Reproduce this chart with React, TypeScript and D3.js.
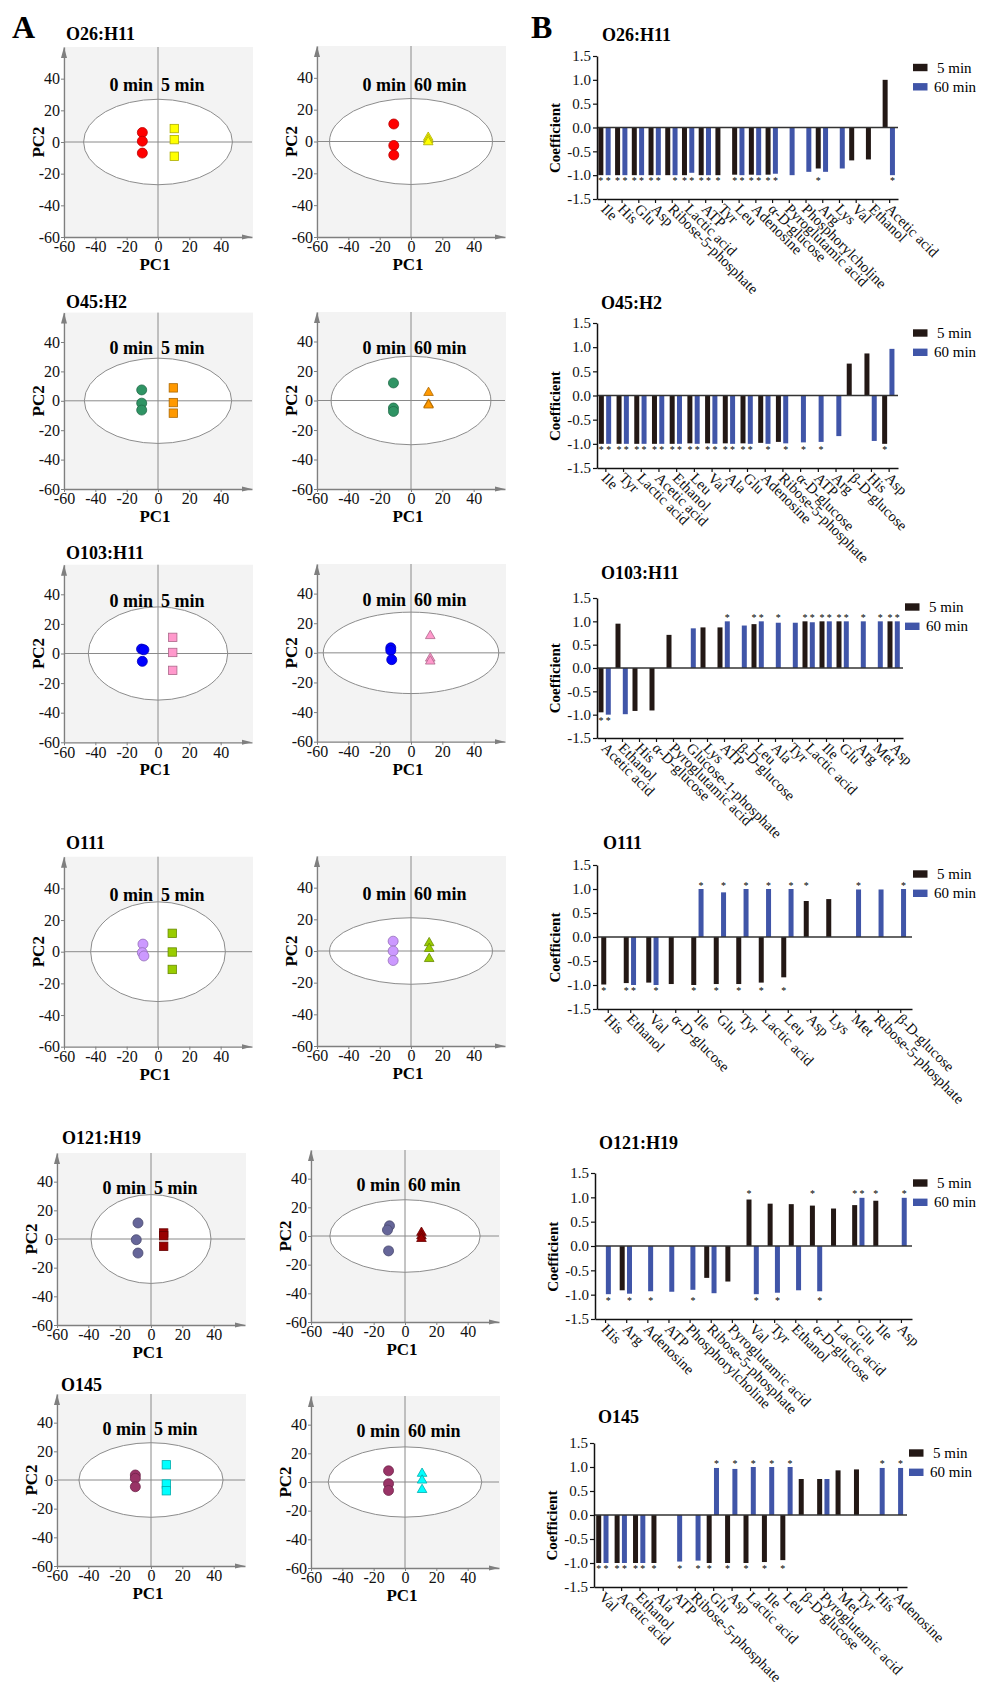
import React, { useEffect, useRef } from "react";
import * as d3 from "d3";

const FONT = "'Times New Roman', 'Liberation Serif', serif";

// ---------- panel A : PCA scores [PC1, PC2] ----------
const strains = ["O26:H11", "O45:H2", "O103:H11", "O111", "O121:H19", "O145"];
const groupLabels5 = ["0 min", "5 min"];
const groupLabels60 = ["0 min", "60 min"];
const pcTicks = [-60, -40, -20, 0, 20, 40];

const o26Ctrl5 = [[-10, 6], [-10, 0.5], [-10, -7]];
const o26Treat5 = [[10.4, 8.5], [10.4, 1.5], [10.4, -9]];
const o26Ctrl60 = [[-11, 11], [-11, -2.5], [-11, -8.5]];
const o26Treat60 = [[11, 2.5], [11, 1], [11, -0.3]];
const o26Ellipse = [[47.5, 27], [52, 27]];

const o45Ctrl5 = [[-10.4, 7.4], [-10.4, -1.6], [-10.4, -6.3]];
const o45Treat5 = [[9.8, 8.8], [9.8, -1.2], [9.8, -8.4]];
const o45Ctrl60 = [[-11.2, 11.9], [-11.2, -5.1], [-11.2, -7.4]];
const o45Treat60 = [[11.2, 5.3], [11.2, -2.6], [11.2, -3.2]];
const o45Ellipse = [[47, 29], [51, 30]];

const o103Ctrl5 = [[-10.5, 3], [-9, 2.5], [-10, -5.3]];
const o103Treat5 = [[9.4, 10.9], [9.4, 0.7], [9.4, -11.4]];
const o103Ctrl60 = [[-12.9, 3.4], [-12.9, 1.6], [-12.3, -4.6]];
const o103Treat60 = [[12.3, 11.5], [12.3, -3.7], [12.3, -5.7]];
const o103Ellipse = [[44.5, 31.5], [56, 27.5]];

const o111Ctrl5 = [[-9.6, 4.8], [-10, -0.6], [-9, -2.7]];
const o111Treat5 = [[9.1, 11.6], [9.1, -0.2], [9.1, -11.2]];
const o111Ctrl60 = [[-11.4, 6.2], [-11.4, 0], [-11.4, -6]];
const o111Treat60 = [[11.6, 5.1], [11.6, 1.5], [11.6, -4.9]];
const o111Ellipse = [[43, 31.5], [52, 21]];

const o121Ctrl5 = [[-8.3, 11.2], [-9.4, -0.5], [-8.3, -9.8]];
const o121Treat5 = [[8.1, 4.2], [8.1, 2.3], [8.1, -5.1]];
const o121Ctrl60 = [[-9.9, 7.1], [-11.2, 4.2], [-10.5, -10.4]];
const o121Treat60 = [[10.5, 2.4], [10.5, 0], [10.5, -1.9]];
const o121Ellipse = [[38.3, 31], [48, 25.3]];

const o145Ctrl5 = [[-10, 3.5], [-10, 1.2], [-10, -4.7]];
const o145Treat5 = [[9.8, 10.6], [9.8, -2.8], [9.8, -7.5]];
const o145Ctrl60 = [[-10.5, 7.8], [-10.5, -1.2], [-10.5, -5.9]];
const o145Treat60 = [[10.9, 5.9], [10.9, 1.2], [10.9, -5.4]];
const o145Ellipse = [[46, 26], [49, 24.5]];

const ctrlColors = ["#ff0000", "#2f9464", "#0000ff", "#cc99ff", "#666699", "#993366"];
const treatColors = ["#ffff00", "#ff9900", "#ff99cc", "#99cc00", "#990000", "#00ffff"];

// ---------- panel B : coefficients ----------
const series = ["5 min", "60 min"];
const seriesColors = ["#231815", "#4055a8"];
const coefTicks = [-1.5, -1, -0.5, 0, 0.5, 1, 1.5];

const o26Cats = ["Ile", "His", "Glu", "Asp", "Ribose-5-phosphate", "Lactic acid", "ATP", "Tyr", "Leu", "Adenosine", "α-D-glucose", "Pyroglutamic acid", "Phosphorylcholine", "Arg", "Lys", "Val", "Ethanol", "Acetic acid"];
const o26Min5 = [-1, -1, -1, -1, -1, -1, -1, -1, -0.99, -0.99, -0.99, null, null, -0.86, null, -0.69, -0.67, 1.0];
const o26Min60 = [-1, -1, -1, -1, -1, -0.95, -1, null, -1, -1, -0.97, -1, -0.93, -0.93, -0.86, null, null, -1];
const o26Sig5 = [1, 1, 1, 1, 0, 1, 1, 1, 1, 1, 1, 0, 0, 1, 0, 0, 0, 0];
const o26Sig60 = [1, 1, 1, 1, 1, 1, 1, 0, 1, 1, 1, 0, 0, 0, 0, 0, 0, 1];

const o45Cats = ["Ile", "Tyr", "Lactic acid", "Acetic acid", "Ethanol", "Leu", "Val", "Ala", "Glu", "Adenosine", "Ribose-5-phosphate", "α-D-glucose", "ATP", "Arg", "β-D-glucose", "His", "Asp"];
const o45Min5 = [-1, -1, -1, -1, -1, -0.99, -0.99, -0.99, -0.99, -0.98, -0.96, null, null, null, 0.66, 0.87, -1];
const o45Min60 = [-1, -1, -1, -1, -1, -1, -1, -1, -1, -1, -0.99, -0.97, -0.96, -0.84, null, -0.94, 0.965];
const o45Sig5 = [1, 1, 1, 1, 1, 1, 1, 1, 1, 0, 0, 0, 0, 0, 0, 0, 1];
const o45Sig60 = [1, 1, 1, 1, 1, 1, 1, 1, 1, 1, 1, 1, 1, 0, 0, 0, 0];

const o103Cats = ["Acetic acid", "Ethanol", "His", "α-D-glucose", "Pyroglutamic acid", "Glucose-1-phosphate", "Lys", "ATP", "β-D-glucose", "Leu", "Ala", "Tyr", "Lactic acid", "Ile", "Glu", "Arg", "Met", "Asp"];
const o103Min5 = [-0.95, 0.95, -0.92, -0.91, 0.71, null, 0.87, 0.87, null, 0.94, null, null, 1, 1, 1, null, null, 1];
const o103Min60 = [-1, -0.99, null, null, null, 0.85, null, 1, 0.91, 1, 0.97, 0.97, 0.98, 1, 1, 1, 1, 1];
const o103Sig5 = [1, 0, 0, 0, 0, 0, 0, 0, 0, 1, 0, 0, 1, 1, 1, 0, 0, 1];
const o103Sig60 = [1, 0, 0, 0, 0, 0, 0, 1, 0, 1, 1, 0, 1, 1, 1, 1, 1, 1];

const o111Cats = ["His", "Ethanol", "Val", "α-D-glucose", "Ile", "Glu", "Tyr", "Lactic acid", "Leu", "Asp", "Lys", "Met", "Ribose-5-phosphate", "β-D-glucose"];
const o111Min5 = [-0.99, -0.96, -0.95, -0.98, -1, -0.98, -0.98, -0.95, -0.84, 0.75, 0.79, null, null, null];
const o111Min60 = [null, -1, -1, null, 1, 0.93, 1, 1, 1, null, null, 0.99, 0.99, 1];
const o111Sig5 = [1, 1, 0, 0, 1, 1, 1, 1, 1, 1, 0, 0, 0, 0];
const o111Sig60 = [0, 1, 1, 0, 1, 1, 1, 1, 1, 0, 0, 1, 0, 1];

const o121Cats = ["His", "Arg", "Adenosine", "ATP", "Phosphorylcholine", "Ribose-5-phosphate", "Pyroglutamic acid", "Val", "Tyr", "Ethanol", "α-D-glucose", "Lactic acid", "Glu", "Ile", "Asp"];
const o121Min5 = [null, -0.91, null, null, null, -0.655, -0.73, 0.955, 0.87, 0.86, 0.83, 0.77, 0.84, 0.93, null];
const o121Min60 = [-0.99, -0.98, -0.93, -0.94, -0.9, -0.97, null, -0.99, -0.96, -0.91, -0.93, null, 0.99, null, 0.99];
const o121Sig5 = [0, 0, 0, 0, 0, 0, 0, 1, 0, 0, 1, 0, 1, 1, 0];
const o121Sig60 = [1, 1, 1, 0, 1, 0, 0, 1, 1, 0, 1, 0, 1, 0, 1];

const o145Cats = ["Val", "Acetic acid", "Ethanol", "Ala", "ATP", "Ribose-5-phosphate", "Glu", "Asp", "Lactic acid", "Ile", "Leu", "β-D-glucose", "Pyroglutamic acid", "Met", "Tyr", "His", "Adenosine"];
const o145Min5 = [-1, -1, -1, -1, null, null, -1, -1, -1, -0.98, -0.94, 0.75, 0.75, 0.93, 0.95, null, null];
const o145Min60 = [-1, -1, -1, null, -0.97, -0.95, 0.98, 0.96, 1, 1, 1, null, 0.75, null, null, 0.98, 0.98];
const o145Sig5 = [1, 1, 1, 1, 0, 0, 1, 1, 1, 1, 1, 0, 0, 0, 0, 0, 0];
const o145Sig60 = [1, 1, 1, 0, 1, 1, 1, 1, 1, 1, 1, 0, 0, 0, 0, 1, 1];

// layout of each row (pixels)
const scatterLayout = [
  { x0: [64, 317], top: [47, 46], bottom: [237, 237], tx: 66, ty: 34 },
  { x0: [64, 317], top: [312.6, 312], bottom: [489, 489], tx: 66, ty: 302 },
  { x0: [64, 317], top: [564.7, 564], bottom: [742.3, 741.7], tx: 66, ty: 553 },
  { x0: [64, 317], top: [856.7, 856], bottom: [1046.7, 1046], tx: 66, ty: 843 },
  { x0: [57, 311], top: [1153, 1150], bottom: [1325, 1322], tx: 62, ty: 1138 },
  { x0: [57, 311], top: [1394, 1396], bottom: [1566, 1568], tx: 61, ty: 1385 },
];
const barLayout = [
  { x: [597, 898], y: [199, 56], tx: 602, ty: 35, lx: 913, ly: 67.5 },
  { x: [597, 898], y: [468, 323], tx: 601, ty: 303, lx: 913, ly: 333 },
  { x: [597, 903], y: [738, 598], tx: 601, ty: 573, lx: 905, ly: 607 },
  { x: [597, 912], y: [1009, 865], tx: 603, ty: 843, lx: 913, ly: 874 },
  { x: [595, 912], y: [1319, 1173], tx: 599, ty: 1143, lx: 913, ly: 1183 },
  { x: [594, 907], y: [1587, 1443], tx: 598, ty: 1417, lx: 909, ly: 1453 },
];

const scores = [
  [o26Ctrl5, o26Treat5, o26Ctrl60, o26Treat60, o26Ellipse],
  [o45Ctrl5, o45Treat5, o45Ctrl60, o45Treat60, o45Ellipse],
  [o103Ctrl5, o103Treat5, o103Ctrl60, o103Treat60, o103Ellipse],
  [o111Ctrl5, o111Treat5, o111Ctrl60, o111Treat60, o111Ellipse],
  [o121Ctrl5, o121Treat5, o121Ctrl60, o121Treat60, o121Ellipse],
  [o145Ctrl5, o145Treat5, o145Ctrl60, o145Treat60, o145Ellipse],
];
const coefs = [
  [o26Cats, o26Min5, o26Min60, o26Sig5, o26Sig60],
  [o45Cats, o45Min5, o45Min60, o45Sig5, o45Sig60],
  [o103Cats, o103Min5, o103Min60, o103Sig5, o103Sig60],
  [o111Cats, o111Min5, o111Min60, o111Sig5, o111Sig60],
  [o121Cats, o121Min5, o121Min60, o121Sig5, o121Sig60],
  [o145Cats, o145Min5, o145Min60, o145Sig5, o145Sig60],
];

function drawScatter(svg: any, x0: number, top: number, bottom: number, ctrl: number[][], treat: number[][],
  ell: number[], labels: string[], cFill: string, tFill: string, treatShape: string) {
  const g = svg.append("g");
  const x = d3.scaleLinear().domain([-60, 60]).range([x0, x0 + 188]);
  const y = d3.scaleLinear().domain([-60, 60]).range([bottom, top]);
  const axisCol = "#7f7f7f";

  g.append("rect").attr("x", x(-60) - 1).attr("y", y(60)).attr("width", x(60) - x(-60) + 2)
    .attr("height", y(-60) - y(60)).attr("fill", "#f3f3f3");

  g.append("ellipse").attr("cx", x(0)).attr("cy", y(0))
    .attr("rx", x(ell[0]) - x(0)).attr("ry", y(0) - y(ell[1]))
    .attr("fill", "#fff").attr("stroke", "#8c8c8c").attr("stroke-width", 1);

  g.append("line").attr("x1", x(0)).attr("x2", x(0)).attr("y1", y(-60)).attr("y2", y(60))
    .attr("stroke", "#8a8a8a").attr("stroke-width", 1);
  g.append("line").attr("x1", x(-60)).attr("x2", x(60)).attr("y1", y(0)).attr("y2", y(0))
    .attr("stroke", "#8a8a8a").attr("stroke-width", 1);

  // axes
  const ax = g.append("g").attr("transform", `translate(0,${y(-60)})`)
    .call(d3.axisBottom(x).tickValues(pcTicks).tickSize(3).tickSizeOuter(0).tickPadding(1).tickFormat((d: any) => String(d)));
  const ay = g.append("g").attr("transform", `translate(${x(-60)},0)`)
    .call(d3.axisLeft(y).tickValues(pcTicks).tickSize(3).tickSizeOuter(0).tickPadding(1).tickFormat((d: any) => String(d)));
  [ax, ay].forEach(a => {
    a.select(".domain").attr("stroke", axisCol).attr("stroke-width", 1.3);
    a.selectAll("line").attr("stroke", axisCol);
    a.selectAll("text").attr("font-family", FONT).attr("font-size", 16).attr("fill", "#111");
  });
  g.append("path").attr("d", `M${x(-60) - 3},${y(60) + 11}L${x(-60)},${y(60)}L${x(-60) + 3},${y(60) + 11}Z`).attr("fill", axisCol);
  g.append("path").attr("d", `M${x(60) - 10},${y(-60) - 2.5}L${x(60)},${y(-60)}L${x(60) - 10},${y(-60) + 2.5}Z`).attr("fill", axisCol);

  g.append("text").attr("x", x(0) - 3).attr("y", y(-60) + 33).attr("text-anchor", "middle")
    .attr("font-family", FONT).attr("font-weight", "bold").attr("font-size", 17).text("PC1");
  g.append("text").attr("transform", `translate(${x(-60) - 20},${y(0)}) rotate(-90)`).attr("text-anchor", "middle")
    .attr("font-family", FONT).attr("font-weight", "bold").attr("font-size", 17).text("PC2");

  g.append("text").attr("x", x(0) - 5).attr("y", y(36)).attr("dy", "0.35em").attr("text-anchor", "end")
    .attr("font-family", FONT).attr("font-weight", "bold").attr("font-size", 18).text(labels[0]);
  g.append("text").attr("x", x(0) + 3).attr("y", y(36)).attr("dy", "0.35em").attr("text-anchor", "start")
    .attr("font-family", FONT).attr("font-weight", "bold").attr("font-size", 18).text(labels[1]);

  g.append("g").selectAll("circle").data(ctrl).enter().append("circle")
    .attr("cx", (d: number[]) => x(d[0])).attr("cy", (d: number[]) => y(d[1])).attr("r", 5)
    .attr("fill", cFill).attr("stroke", d3.color(cFill)!.darker(0.9).formatHex()).attr("stroke-width", 0.8);

  const tStroke = d3.color(tFill)!.darker(1.1).formatHex();
  if (treatShape === "square") {
    g.append("g").selectAll("rect").data(treat).enter().append("rect")
      .attr("x", (d: number[]) => x(d[0]) - 4.2).attr("y", (d: number[]) => y(d[1]) - 4.2)
      .attr("width", 8.4).attr("height", 8.4)
      .attr("fill", tFill).attr("stroke", tStroke).attr("stroke-width", 0.8);
  } else {
    const tri = d3.symbol().type(d3.symbolTriangle).size(40);
    g.append("g").selectAll("path").data(treat).enter().append("path")
      .attr("d", tri as any).attr("transform", (d: number[]) => `translate(${x(d[0])},${y(d[1])})`)
      .attr("fill", tFill).attr("stroke", tStroke).attr("stroke-width", 0.8);
  }
}

function drawBars(svg: any, L: any, cats: string[], v5: (number | null)[], v60: (number | null)[],
  s5: number[], s60: number[], title: string) {
  const g = svg.append("g");
  const x = d3.scaleBand().domain(cats).range(L.x);
  const xs = d3.scaleBand().domain(series).range([-7, 5.3]).paddingInner(0.315);
  const y = d3.scaleLinear().domain([-1.5, 1.5]).range(L.y);
  const vals = [v5, v60];
  const sigs = [s5, s60];

  series.forEach((s, k) => {
    const data = cats.map((c, i) => ({ c, v: vals[k][i], sig: sigs[k][i] })).filter(d => d.v !== null);
    g.append("g").selectAll("rect").data(data).enter().append("rect")
      .attr("x", (d: any) => (x(d.c) as number) + x.bandwidth() / 2 + (xs(s) as number))
      .attr("y", (d: any) => Math.min(y(d.v), y(0)))
      .attr("width", xs.bandwidth())
      .attr("height", (d: any) => Math.abs(y(d.v) - y(0)))
      .attr("fill", seriesColors[k]);
    g.append("g").selectAll("text").data(data.filter(d => d.sig)).enter().append("text")
      .attr("x", (d: any) => (x(d.c) as number) + x.bandwidth() / 2 + (xs(s) as number) + xs.bandwidth() / 2)
      .attr("y", (d: any) => y(d.v > 0 ? 1.1 : -1.1) + 4.5)
      .attr("text-anchor", "middle").attr("font-family", FONT).attr("font-size", 10).text("*");
  });

  g.append("line").attr("x1", L.x[0]).attr("x2", L.x[1]).attr("y1", y(0)).attr("y2", y(0))
    .attr("stroke", "#333").attr("stroke-width", 1.3);

  const ay = g.append("g").attr("transform", `translate(${L.x[0]},0)`)
    .call(d3.axisLeft(y).tickValues(coefTicks).tickSize(4).tickSizeOuter(0).tickPadding(2)
      .tickFormat((d: any) => (+d).toFixed(1)));
  const ax = g.append("g").attr("transform", `translate(0,${y(-1.5)})`)
    .call(d3.axisBottom(x).tickSize(4).tickSizeOuter(0));
  [ax, ay].forEach(a => {
    a.select(".domain").attr("stroke", "#111").attr("stroke-width", 1.5);
    a.selectAll("line").attr("stroke", "#111").attr("stroke-width", 1.2);
    a.selectAll("text").attr("font-family", FONT).attr("font-size", 15).attr("fill", "#111");
  });
  ax.selectAll("text").attr("x", 0).attr("y", 0).attr("dy", 0)
    .attr("transform", "translate(-5,11) rotate(45)").style("text-anchor", "start");

  g.append("text").attr("transform", `translate(${L.x[0] - 37},${y(-0.22)}) rotate(-90)`)
    .attr("text-anchor", "middle").attr("font-family", FONT).attr("font-weight", "bold")
    .attr("font-size", 15).text("Coefficient");

  g.append("text").attr("x", L.tx).attr("y", L.ty + 6).attr("font-family", FONT)
    .attr("font-weight", "bold").attr("font-size", 18).text(title);

  series.forEach((s, k) => {
    const ly = L.ly + k * 19.3;
    g.append("rect").attr("x", L.lx).attr("y", ly - 3.7).attr("width", 14.5).attr("height", 7.4)
      .attr("fill", seriesColors[k]);
    g.append("text").attr("x", L.lx + (k === 0 ? 24 : 21)).attr("y", ly + 5)
      .attr("font-family", FONT).attr("font-size", 15).text(s);
  });
}

export default function App() {
  const ref = useRef<SVGSVGElement>(null);

  useEffect(() => {
    const svg = d3.select(ref.current);
    svg.selectAll("*").remove();

    svg.append("text").attr("x", 12).attr("y", 38).attr("font-family", FONT)
      .attr("font-weight", "bold").attr("font-size", 32).text("A");
    svg.append("text").attr("x", 531).attr("y", 38).attr("font-family", FONT)
      .attr("font-weight", "bold").attr("font-size", 32).text("B");

    strains.forEach((name, r) => {
      const S = scatterLayout[r];
      const [c5, t5, c60, t60, ell] = scores[r];
      svg.append("text").attr("x", S.tx).attr("y", S.ty + 6).attr("font-family", FONT)
        .attr("font-weight", "bold").attr("font-size", 18).text(name);
      drawScatter(svg, S.x0[0], S.top[0], S.bottom[0], c5, t5, ell[0], groupLabels5, ctrlColors[r], treatColors[r], "square");
      drawScatter(svg, S.x0[1], S.top[1], S.bottom[1], c60, t60, ell[1], groupLabels60, ctrlColors[r], treatColors[r], "triangle");

      const [cats, m5, m60, g5, g60] = coefs[r] as any;
      drawBars(svg, barLayout[r], cats, m5, m60, g5, g60, name);
    });
  }, []);

  return (
    <svg ref={ref} width={984} height={1693}
      style={{ position: "absolute", left: 0, top: 0, background: "#fff" }} />
  );
}
